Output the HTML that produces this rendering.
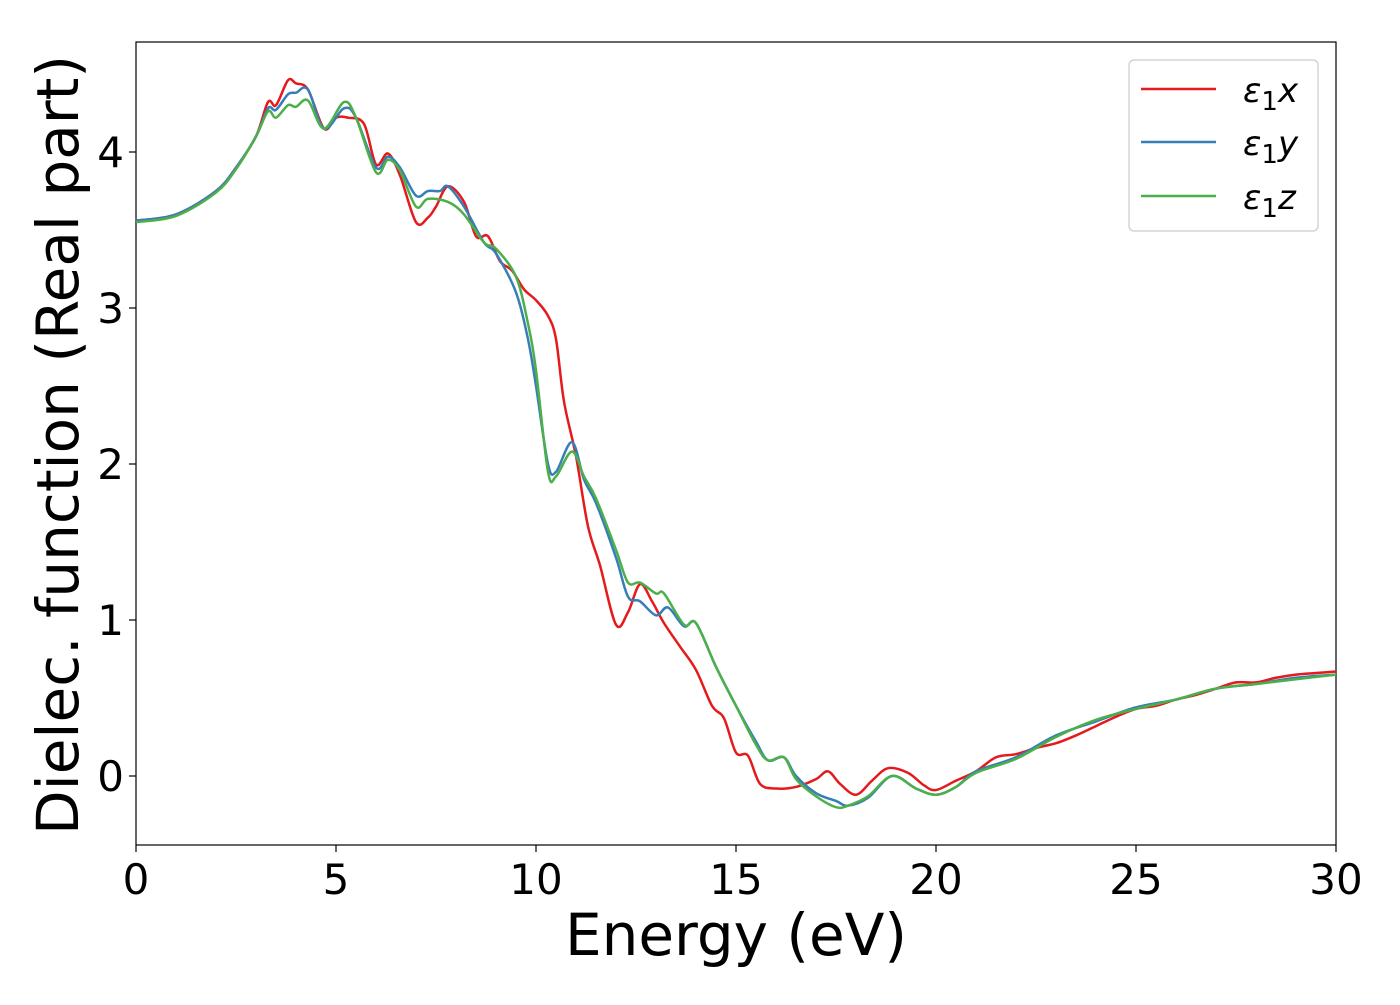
<!DOCTYPE html>
<html><head><meta charset="utf-8"><style>
body{margin:0;background:#fff}
svg text{font-family:"DejaVu Sans","Liberation Sans",sans-serif;fill:#000}
</style></head><body>
<svg id="chart" width="1400" height="1000" xmlns="http://www.w3.org/2000/svg">
<rect x="136" y="42" width="1200" height="803" fill="none" stroke="#000" stroke-width="1.2"/>
<g id="ticks"></g>
<g id="series"></g>
<text x="736" y="955" font-size="58" text-anchor="middle">Energy (eV)</text>
<text transform="translate(78,445) rotate(-90)" font-size="58" text-anchor="middle">Dielec. function (Real part)</text>
<g>
<rect x="1129" y="60" width="189" height="171" rx="5" fill="#fff" stroke="#ccc" stroke-width="1.2"/>
<line x1="1141" y1="89" x2="1216" y2="89" stroke="#e41a1c" stroke-width="2.5"/>
<text x="1243" y="102" font-size="34" font-style="italic">ε<tspan font-style="normal" font-size="26" dy="8">1</tspan><tspan dy="-8">x</tspan></text>
<line x1="1141" y1="142" x2="1216" y2="142" stroke="#377eb8" stroke-width="2.5"/>
<text x="1243" y="155" font-size="34" font-style="italic">ε<tspan font-style="normal" font-size="26" dy="8">1</tspan><tspan dy="-8">y</tspan></text>
<line x1="1141" y1="196" x2="1216" y2="196" stroke="#4daf4a" stroke-width="2.5"/>
<text x="1243" y="209" font-size="34" font-style="italic">ε<tspan font-style="normal" font-size="26" dy="8">1</tspan><tspan dy="-8">z</tspan></text>
</g>
</svg>
<script>
const xTicks=[0,5,10,15,20,25,30];
const yTicks=[0,1,2,3,4];
const seriesX=[[0,3.56],[1,3.6],[2,3.75],[2.5,3.9],[3,4.1],[3.3,4.32],[3.5,4.3],[3.8,4.46],[4,4.44],[4.3,4.4],[4.7,4.15],[5,4.22],[5.3,4.22],[5.7,4.18],[6,3.92],[6.3,3.99],[6.6,3.85],[7,3.55],[7.3,3.58],[7.5,3.65],[7.8,3.78],[8.2,3.68],[8.5,3.46],[8.8,3.46],[9.1,3.3],[9.4,3.24],[9.7,3.12],[10,3.05],[10.3,2.95],[10.5,2.8],[10.7,2.4],[11,2.05],[11.3,1.6],[11.6,1.35],[12,0.97],[12.3,1.05],[12.6,1.23],[12.9,1.12],[13.2,0.98],[13.6,0.83],[14,0.68],[14.4,0.45],[14.7,0.37],[15,0.15],[15.3,0.13],[15.6,-0.05],[16,-0.08],[16.5,-0.07],[17,-0.02],[17.3,0.03],[17.6,-0.05],[18,-0.12],[18.4,-0.03],[18.8,0.05],[19.3,0.02],[19.7,-0.06],[20,-0.09],[20.5,-0.03],[21,0.03],[21.5,0.12],[22,0.14],[22.5,0.18],[23,0.21],[23.5,0.26],[24,0.32],[24.5,0.38],[25,0.43],[25.5,0.45],[26,0.49],[26.5,0.52],[27,0.56],[27.5,0.6],[28,0.6],[28.5,0.63],[29,0.65],[29.5,0.66],[30,0.67]];
const seriesY=[[0,3.56],[1,3.6],[2,3.75],[2.5,3.9],[3,4.1],[3.3,4.28],[3.5,4.27],[3.8,4.37],[4,4.38],[4.3,4.4],[4.7,4.15],[5.2,4.28],[5.5,4.22],[6,3.9],[6.3,3.97],[6.6,3.9],[7,3.72],[7.3,3.75],[7.6,3.75],[7.8,3.78],[8.2,3.65],[8.7,3.42],[9,3.35],[9.5,3.1],[9.8,2.8],[10,2.5],[10.3,2.0],[10.5,1.95],[10.9,2.14],[11.2,1.9],[11.5,1.75],[12,1.4],[12.3,1.15],[12.6,1.12],[13,1.03],[13.3,1.08],[13.7,0.96],[14,0.98],[14.5,0.7],[15,0.45],[15.5,0.22],[15.8,0.1],[16.2,0.12],[16.5,0.0],[17,-0.11],[17.5,-0.16],[17.8,-0.19],[18.3,-0.14],[18.9,0.0],[19.5,-0.08],[20,-0.12],[20.5,-0.07],[21,0.03],[22,0.12],[23,0.26],[24,0.35],[25,0.44],[26,0.49],[27,0.56],[28,0.59],[29,0.63],[30,0.65]];
const seriesZ=[[0,3.55],[1,3.59],[2,3.74],[2.5,3.89],[3,4.1],[3.3,4.26],[3.5,4.22],[3.8,4.3],[4,4.29],[4.3,4.33],[4.7,4.15],[5.2,4.32],[5.5,4.22],[6,3.87],[6.3,3.95],[6.6,3.88],[7,3.65],[7.3,3.7],[7.8,3.68],[8.2,3.6],[8.7,3.42],[9,3.38],[9.5,3.2],[9.8,2.9],[10,2.6],[10.3,1.95],[10.5,1.92],[10.9,2.08],[11.2,1.92],[11.5,1.78],[12,1.45],[12.3,1.24],[12.6,1.24],[13,1.17],[13.2,1.17],[13.7,0.97],[14,0.98],[14.5,0.7],[15,0.45],[15.5,0.2],[15.8,0.1],[16.2,0.12],[16.5,-0.02],[17,-0.13],[17.5,-0.2],[17.8,-0.19],[18.3,-0.13],[18.9,0.0],[19.5,-0.08],[20,-0.12],[20.5,-0.07],[21,0.02],[22,0.11],[23,0.25],[24,0.36],[25,0.43],[26,0.49],[27,0.56],[28,0.59],[29,0.62],[30,0.65]];
const seriesList=[["series-eps1x",seriesX,"#e41a1c"],["series-eps1y",seriesY,"#377eb8"],["series-eps1z",seriesZ,"#4daf4a"]];
const NS="http://www.w3.org/2000/svg";
function sx(v){return 136+v*40;}
function sy(v){return 776-v*156;}
const tg=document.getElementById('ticks');
function mk(t,a,p){const e=document.createElementNS(NS,t);for(const k in a)e.setAttribute(k,a[k]);p.appendChild(e);return e;}
xTicks.forEach(t=>{
 const l=mk('line',{x1:sx(t),x2:sx(t),y1:845,y2:852,stroke:'#000','stroke-width':1.2},tg);
 
 
 const tx=mk('text',{x:sx(t),y:894,'font-size':42,'text-anchor':'middle'},tg);tx.textContent=t;
 
 
});
yTicks.forEach(t=>{
 const l=mk('line',{x1:129,x2:136,y1:sy(t),y2:sy(t),stroke:'#000','stroke-width':1.2},tg);
 
 
 const tx=mk('text',{x:124,y:sy(t)+15,'font-size':42,'text-anchor':'end'},tg);tx.textContent=t;
 
 
});
function smooth(pts){
 const p=pts.map(d=>[sx(d[0]),sy(d[1])]);
 let s='M'+p[0][0]+','+p[0][1];
 for(let i=0;i<p.length-1;i++){
  const p0=p[i-1]||p[i],p1=p[i],p2=p[i+1],p3=p[i+2]||p2;
  const c1=[p1[0]+(p2[0]-p0[0])/6,p1[1]+(p2[1]-p0[1])/6];
  const c2=[p2[0]-(p3[0]-p1[0])/6,p2[1]-(p3[1]-p1[1])/6];
  s+=' C'+c1.join(',')+' '+c2.join(',')+' '+p2.join(',');
 }
 return s;
}
const sg=document.getElementById('series');
seriesList.forEach(s=>{
 const e=mk('path',{d:smooth(s[1]),fill:'none',stroke:s[2],'stroke-width':2.5},sg);
 
 
});
</script>
</body></html>
